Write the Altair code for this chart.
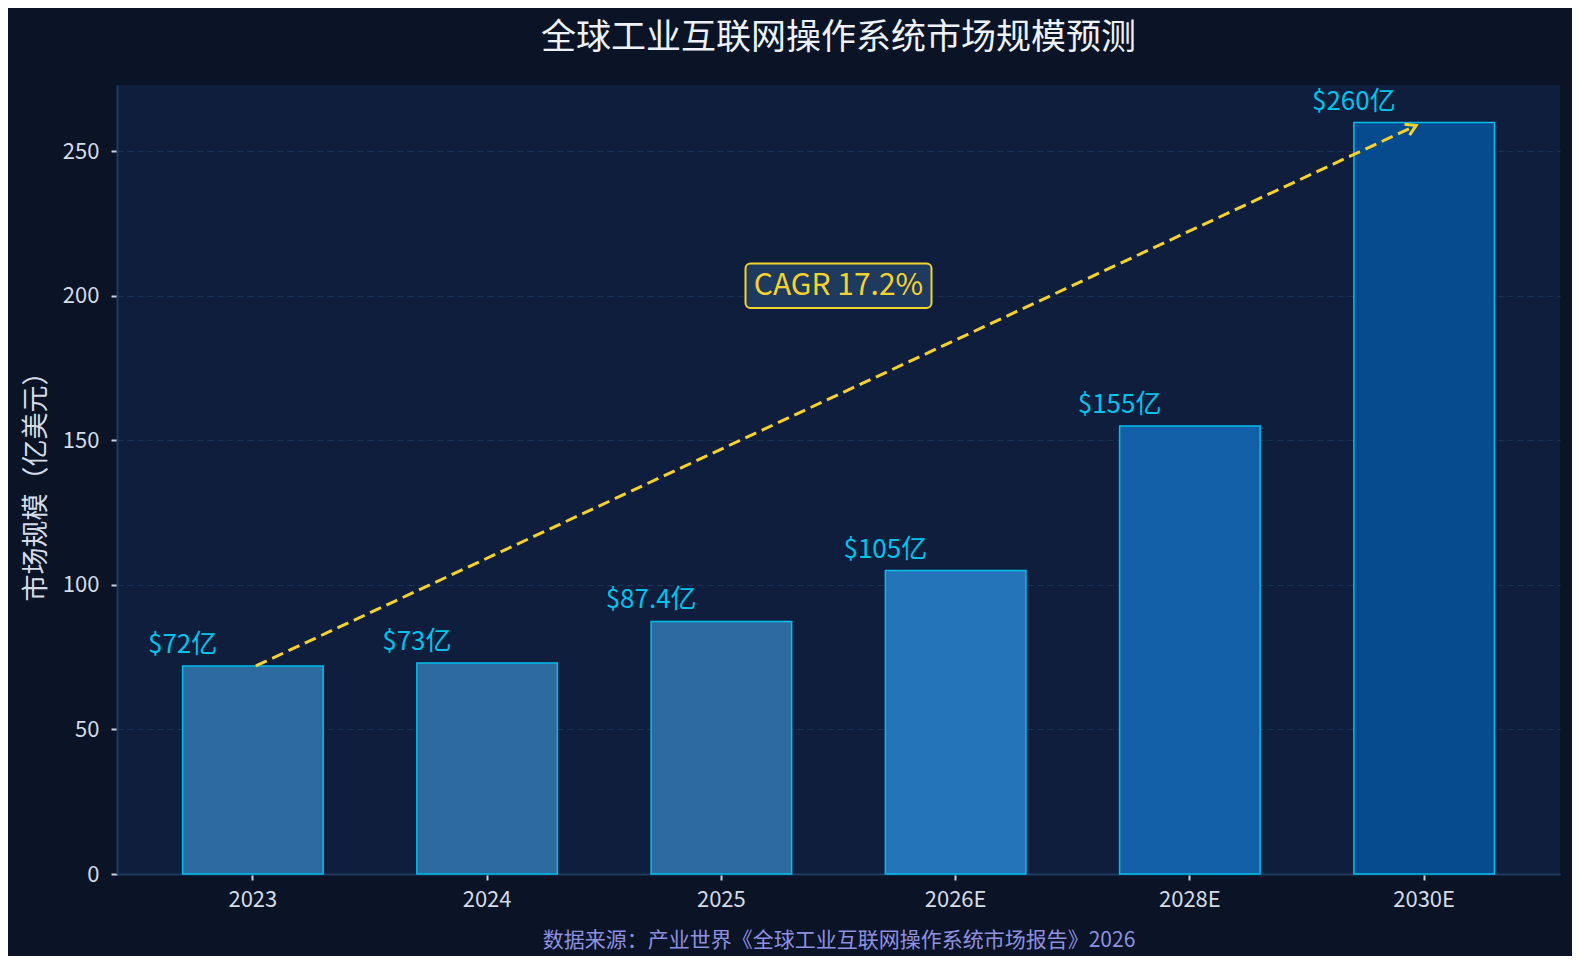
import altair as alt
import pandas as pd

years = ["2023", "2024", "2025", "2026E", "2028E", "2030E"]
market_size = [72, 73, 87.4, 105, 155, 260]
value_labels = ["$72亿", "$73亿", "$87.4亿", "$105亿", "$155亿", "$260亿"]
bar_colors = ["#2D6A9F", "#2D6A9F", "#2D6A9F", "#2474B8", "#1460A8", "#074B8F"]
y_ticks = [0, 50, 100, 150, 200, 250]

arrow_from = ("2023", 72)
arrow_to = ("2030E", 259)
cagr_label = "CAGR 17.2%"
cagr_value = 203.5
cagr_box = (195.8, 211.2)

title = "全球工业互联网操作系统市场规模预测"
y_title = "市场规模（亿美元）"
source = "数据来源：产业世界《全球工业互联网操作系统市场报告》2026"

FONT = "Noto Sans CJK SC"
W, H = 1443, 789
YELLOW = "#F5D22E"

df = pd.DataFrame({"year": years, "size": market_size, "label": value_labels})

x_scale = alt.Scale(domain=years, paddingInner=0.4, paddingOuter=0.28)
y_scale = alt.Scale(domain=[0, 273], nice=False)

base = alt.Chart(df)

bars = base.mark_bar(stroke="#00BFEF", strokeWidth=1.5).encode(
    x=alt.X("year:N", scale=x_scale, sort=years,
            axis=alt.Axis(title=source, labelAngle=0)),
    y=alt.Y("size:Q", scale=y_scale,
            axis=alt.Axis(title=y_title, values=y_ticks, grid=True)),
    color=alt.Color("year:N", scale=alt.Scale(domain=years, range=bar_colors), legend=None),
)

labels = base.mark_text(font=FONT, fontSize=26, color="#00C3EE",
                        baseline="alphabetic", dy=-13).encode(
    x=alt.X("year:N", bandPosition=0, sort=years),
    y="size:Q",
    text="label:N",
)

arrow_df = pd.DataFrame({
    "x": [arrow_from[0]], "y": [arrow_from[1]],
    "x2": [arrow_to[0]], "y2": [arrow_to[1]],
})
arrow = alt.Chart(arrow_df).mark_rule(
    color=YELLOW, strokeWidth=3, strokeDash=[12, 6], xOffset=3, x2Offset=-8
).encode(
    x=alt.X("x:N", sort=years), x2="x2:N",
    y="y:Q", y2="y2:Q",
)
head = alt.Chart(arrow_df).mark_point(
    shape="M -1 -0.6 L 0 0 L -1 0.6", filled=False, stroke=YELLOW,
    strokeWidth=3, size=400, angle=335, xOffset=-8, opacity=1
).encode(
    x=alt.X("x2:N", sort=years), y="y2:Q",
)

box = alt.Chart(pd.DataFrame({"lo": [cagr_box[0]], "hi": [cagr_box[1]]})).mark_rect(
    fill="#1E3A5F", stroke=YELLOW, strokeWidth=2, cornerRadius=5
).encode(
    x=alt.value(W / 2 - 93), x2=alt.value(W / 2 + 93),
    y="lo:Q", y2="hi:Q",
)
cagr = alt.Chart(pd.DataFrame({"v": [cagr_value], "t": [cagr_label]})).mark_text(
    font=FONT, fontSize=30, color=YELLOW, baseline="middle"
).encode(
    x=alt.value(W / 2), y="v:Q", text="t:N",
)

chart = alt.layer(bars, labels, arrow, head, box, cagr).properties(
    width=W, height=H,
    title=alt.TitleParams(title, anchor="middle", frame="group", font=FONT,
                          fontSize=35, fontWeight="normal", color="#EEF2F7", offset=29),
    background="#0A1426",
    padding={"left": 109, "top": 77, "right": 12, "bottom": 82},
    autosize=alt.AutoSizeParams(type="none"),
).configure_view(
    fill="#0E1E3C", stroke=None
).configure_axis(
    labelFont=FONT, titleFont=FONT, labelFontSize=22, labelColor="#D5DCE6",
    titleColor="#D5DCE6", titleFontWeight="normal",
    domainColor="#1E3A5F", domainWidth=2, tickColor="#C8D0DA", tickSize=6, tickWidth=2,
    gridColor="#24456A", gridDash=[6, 4], gridWidth=1, gridOpacity=0.6, zindex=1,
).configure_axisX(
    grid=False, labelPadding=9, titleFontSize=21, titleColor="#9090E0", titlePadding=19,
).configure_axisY(
    titleFontSize=27, titlePadding=12, labelPadding=12,
)

chart.save("out.html", embed_options={"renderer": "svg", "actions": False})
